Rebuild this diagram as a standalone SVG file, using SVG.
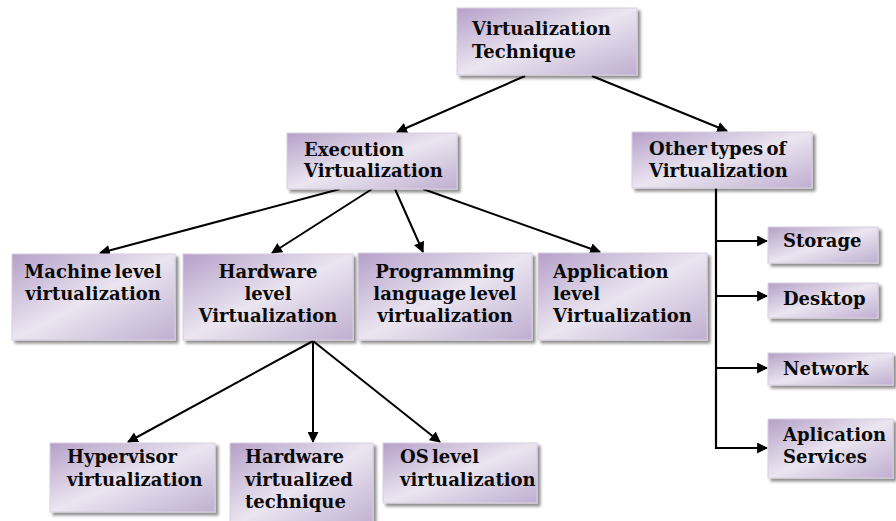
<svg xmlns="http://www.w3.org/2000/svg" width="896" height="521" viewBox="0 0 896 521">
<defs>
<linearGradient id="g" x1="0" y1="0" x2="1" y2="1">
<stop offset="0" stop-color="#b5a0c9"/>
<stop offset="0.5" stop-color="#ebe5f0"/>
<stop offset="1" stop-color="#bfaed1"/>
</linearGradient>
<marker id="ah" viewBox="0 0 10 10" refX="9" refY="5" markerWidth="5.5" markerHeight="5.5" orient="auto" markerUnits="strokeWidth">
<path d="M0,0 L10,5 L0,10 z" fill="#000"/>
</marker>
<filter id="sh" x="-10%" y="-10%" width="130%" height="130%">
<feGaussianBlur in="SourceAlpha" stdDeviation="1.5"/>
<feOffset dx="3" dy="3" result="b"/>
<feComponentTransfer><feFuncA type="linear" slope="0.45"/></feComponentTransfer>
<feMerge><feMergeNode/><feMergeNode in="SourceGraphic"/></feMerge>
</filter>
</defs>
<style>
.box{fill:url(#g);stroke:#d8d0e0;stroke-width:1;filter:url(#sh)}
text{font-family:"DejaVu Serif","Liberation Serif",serif;font-weight:bold;font-size:18px;word-spacing:-3px;fill:#0a0a0a}
.c{text-anchor:middle}
.ln{stroke:#000;stroke-width:2.2;fill:none}
.ar{stroke:#000;stroke-width:2;fill:none;marker-end:url(#ah)}
</style>
<g id="connectors">
<line class="ar" x1="525" y1="76" x2="397" y2="132"/>
<line class="ar" x1="592" y1="76" x2="727" y2="131"/>
<line class="ar" x1="340" y1="189" x2="100" y2="253"/>
<line class="ar" x1="372" y1="189" x2="272" y2="253"/>
<line class="ar" x1="395" y1="189" x2="423" y2="252"/>
<line class="ar" x1="423" y1="189" x2="600" y2="252"/>
<line class="ar" x1="313" y1="341" x2="128" y2="442"/>
<line class="ar" x1="313" y1="341" x2="313" y2="442"/>
<line class="ar" x1="313" y1="341" x2="440" y2="442"/>
<line class="ln" x1="716" y1="188" x2="716" y2="449"/>
<line class="ar" x1="716" y1="241" x2="767" y2="241"/>
<line class="ar" x1="716" y1="296" x2="767" y2="296"/>
<line class="ar" x1="716" y1="368" x2="767" y2="368"/>
<line class="ar" x1="715" y1="448" x2="767" y2="448"/>
</g>
<g id="n-top"><rect class="box" x="457" y="8" width="180" height="67"/>
<text x="472" y="35">Virtualization</text><text x="472" y="58">Technique</text></g>
<g id="n-exec"><rect class="box" x="287" y="133" width="170" height="56"/>
<text x="304" y="156">Execution</text><text x="304" y="177">Virtualization</text></g>
<g id="n-other"><rect class="box" x="632" y="132" width="180" height="56"/>
<text x="649" y="155">Other types of</text><text x="649" y="177">Virtualization</text></g>
<g id="n-machine"><rect class="box" x="12" y="254" width="163" height="86"/>
<text class="c" x="93" y="278">Machine level</text><text class="c" x="93" y="300">virtualization</text></g>
<g id="n-hw"><rect class="box" x="183" y="254" width="170" height="86"/>
<text class="c" x="268" y="278">Hardware</text><text class="c" x="268" y="300">level</text><text class="c" x="268" y="322">Virtualization</text></g>
<g id="n-prog"><rect class="box" x="358" y="253" width="174" height="87"/>
<text class="c" x="445" y="278">Programming</text><text class="c" x="445" y="300">language level</text><text class="c" x="445" y="322">virtualization</text></g>
<g id="n-app"><rect class="box" x="538" y="253" width="169" height="87"/>
<text x="553" y="278">Application</text><text x="553" y="300">level</text><text x="553" y="322">Virtualization</text></g>
<g id="n-storage"><rect class="box" x="768" y="227" width="110" height="36"/>
<text x="783" y="247">Storage</text></g>
<g id="n-desktop"><rect class="box" x="768" y="283" width="110" height="35"/>
<text x="783" y="305">Desktop</text></g>
<g id="n-network"><rect class="box" x="768" y="353" width="125" height="32"/>
<text x="783" y="375">Network</text></g>
<g id="n-appsvc"><rect class="box" x="768" y="419" width="125" height="59"/>
<text x="783" y="441">Aplication</text><text x="783" y="463">Services</text></g>
<g id="n-hyper"><rect class="box" x="50" y="443" width="165" height="69"/>
<text x="67" y="463">Hypervisor</text><text x="67" y="486">virtualization</text></g>
<g id="n-hwvt"><rect class="box" x="230" y="443" width="143" height="85"/>
<text x="245" y="463">Hardware</text><text x="245" y="486">virtualized</text><text x="245" y="508">technique</text></g>
<g id="n-os"><rect class="box" x="383" y="443" width="154" height="60"/>
<text x="400" y="463">OS level</text><text x="400" y="486">virtualization</text></g>
</svg>
